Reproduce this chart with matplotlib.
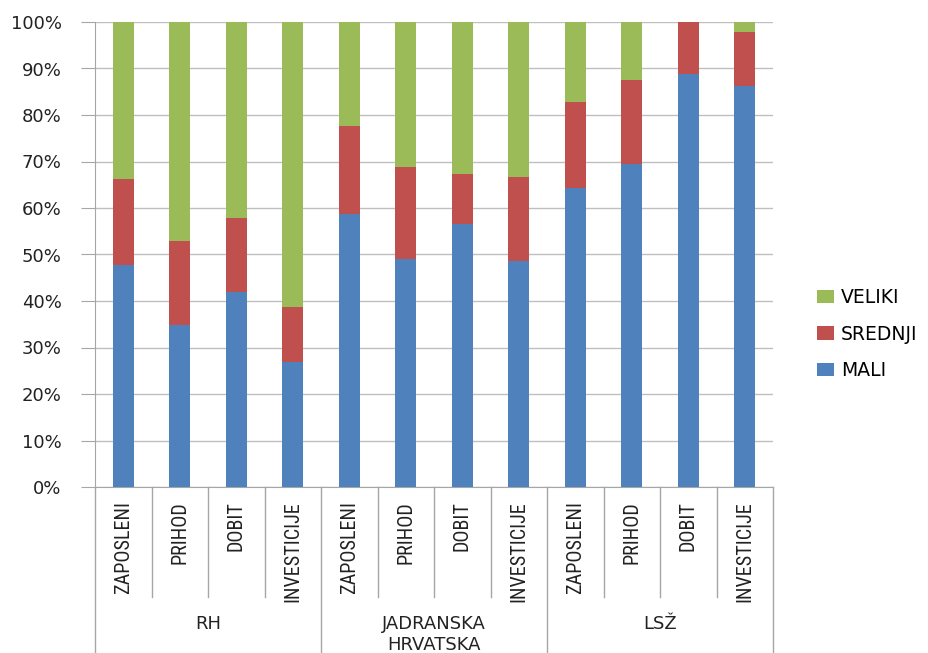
import matplotlib.pyplot as plt
import numpy as np

groups = ['RH', 'JADRANSKA\nHRVATSKA', 'LSŽ']
categories = ['ZAPOSLENI', 'PRIHOD', 'DOBIT', 'INVESTICIJE'] * 3

# shares in %
mali = [47.7, 34.8, 42.0, 26.9, 58.7, 49.0, 56.6, 48.6, 64.3, 69.5, 88.8, 86.2]
srednji = [18.5, 18.1, 15.8, 11.8, 18.9, 19.8, 10.7, 18.1, 18.5, 18.0, 11.2, 11.6]
veliki = [33.8, 47.1, 42.2, 61.3, 22.4, 31.2, 32.7, 33.3, 17.2, 12.5, 0.0, 2.2]

c_mali = '#4F81BD'
c_srednji = '#C0504D'
c_veliki = '#9BBB59'
line_c = '#A6A6A6'
narrow = ['Liberation Sans Narrow', 'Roboto Condensed', 'DejaVu Sans Condensed',
          'Open Sans Condensed', 'Liberation Sans']

fig = plt.figure(figsize=(9.29, 6.53), dpi=100)
ax = fig.add_axes([95/929, 166/653, 678/929, 465/653])

x = np.arange(len(categories))
mali = np.array(mali); srednji = np.array(srednji); veliki = np.array(veliki)
w = 0.38
b1 = ax.bar(x, mali, w, color=c_mali, label='MALI', zorder=3)
b2 = ax.bar(x, srednji, w, bottom=mali, color=c_srednji, label='SREDNJI', zorder=3)
b3 = ax.bar(x, veliki, w, bottom=mali + srednji, color=c_veliki, label='VELIKI', zorder=3)

ax.set_xlim(-0.5, len(categories) - 0.5)
ax.set_ylim(0, 100)
ax.set_yticks(np.arange(0, 101, 10))
ax.set_yticklabels(['%d%%' % v for v in range(0, 101, 10)], fontsize=13, family='DejaVu Sans')
ax.yaxis.grid(True, color='#BFBFBF', linewidth=1.0, zorder=0)
ax.tick_params(axis='y', length=10, color=line_c, pad=14, labelcolor='#222222')

ax.set_xticks(x)
ax.set_xticklabels(categories, rotation=90, fontsize=14.5, family=narrow, color='#222222')
ax.tick_params(axis='x', length=0, pad=10)

for s in ['top', 'right']:
    ax.spines[s].set_visible(False)
ax.spines['left'].set_color(line_c)
ax.spines['bottom'].set_color(line_c)

tr = ax.get_xaxis_transform()
# separators under the axis
for k in range(len(categories) + 1):
    xs = k - 0.5
    y_end = -0.36 if k % 4 == 0 else -0.237
    ax.plot([xs, xs], [0, y_end], color=line_c, lw=1.0, transform=tr, clip_on=False)

for i, g in enumerate(groups):
    ax.text(i * 4 + 1.5, -0.275, g, transform=tr, ha='center', va='top', fontsize=13,
            linespacing=1.2, color='#222222')

handles = [b3, b2, b1]
fig.legend(handles, [h.get_label() for h in handles], loc='center left',
           bbox_to_anchor=(800/929, 1 - 334/653), frameon=False, fontsize=13.5,
           handlelength=0.9, handleheight=0.7, handletextpad=0.4, labelspacing=0.92)

plt.savefig('out.png', dpi=100)
